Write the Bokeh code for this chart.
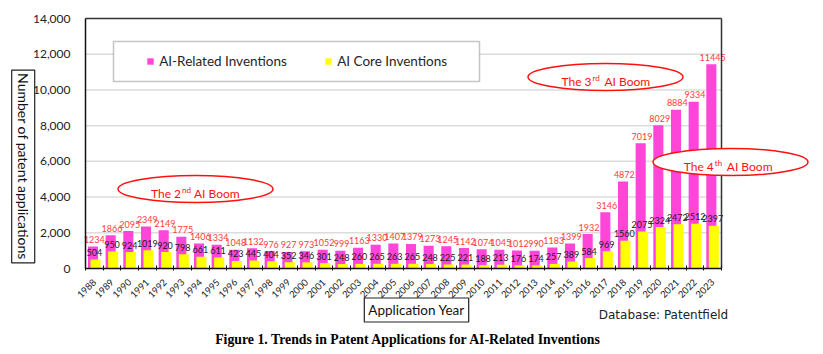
import math
from bokeh.plotting import figure
from bokeh.models import (Range1d, FixedTicker, NumeralTickFormatter, Label, Legend,
                          LegendItem, ColumnDataSource, BoxAnnotation)
from bokeh.transform import dodge
from bokeh.core.properties import value
from bokeh.embed import file_html
from bokeh.resources import INLINE

# ---------------- data ----------------
years = [str(y) for y in range(1988, 2024)]
ai_related = [1234, 1866, 2095, 2349, 2149, 1775, 1406, 1334, 1048, 1132, 976, 927,
              973, 1052, 999, 1163, 1330, 1407, 1379, 1273, 1245, 1142, 1074, 1045,
              1012, 990, 1183, 1399, 1932, 3146, 4872, 7019, 8029, 8884, 9334, 11445]
ai_core = [504, 950, 924, 1019, 920, 798, 661, 611, 423, 445, 404, 352,
           346, 301, 248, 260, 265, 263, 265, 248, 225, 221, 188, 213,
           176, 174, 257, 389, 584, 969, 1560, 2075, 2324, 2472, 2512, 2397]
y_ticks = [0, 2000, 4000, 6000, 8000, 10000, 12000, 14000]
grid_values = [2000, 4000, 6000, 8000, 10000, 12000]
series_names = ["AI-Related Inventions", "AI Core Inventions"]
booms = [("The 2", "nd"), ("The 3", "rd"), ("The 4", "th")]

# ---------------- layout constants ----------------
W, H = 823, 354
AX_LEFT, AX_RIGHT = 85, 721      # pixel span of the category axis
AX_BOTTOM, Y_TOP_PX = 268, 18    # pixel rows of 0 and 14,000
n = len(years)
ppx = (AX_RIGHT - AX_LEFT) / n
y_per_px = y_ticks[-1] / (AX_BOTTOM - Y_TOP_PX)


def dx(px):
    return (px - AX_LEFT) / ppx


def dy(py):
    return (AX_BOTTOM - py) * y_per_px


PINK = "#FF46D9"
YELLOW = "#FFFF00"
RED_TXT = "#FF3B3B"
RED = "#FF1010"
FONT = "Lato"

p = figure(width=W, height=H, title=None,
           x_range=Range1d(dx(0), dx(W)), y_range=Range1d(dy(H), dy(0)),
           output_backend="svg", toolbar_location=None,
           min_border_left=0, min_border_right=0, min_border_top=0, min_border_bottom=0)
p.outline_line_color = None
p.grid.visible = False
p.background_fill_color = "white"
p.border_fill_color = "white"

centers = [i + 0.5 for i in range(n)]
src = ColumnDataSource(dict(
    x=centers, year=years, related=ai_related, core=ai_core,
    related_txt=[str(v) for v in ai_related], core_txt=[str(v) for v in ai_core]))

# gridlines (only across the category span)
p.segment(x0=[0] * len(grid_values), x1=[n] * len(grid_values), y0=grid_values, y1=grid_values,
          line_color="#DCDCDC", line_width=1.5)

pink = p.vbar(x=dodge("x", -0.075, range=p.x_range), top="related", width=0.57, bottom=0,
              source=src, fill_color=PINK, line_color=None)
yellow = p.vbar(x=dodge("x", 0.065, range=p.x_range), top="core", width=0.57, bottom=0,
                source=src, fill_color=YELLOW, line_color=None)

p.text(x="x", y="related", text="related_txt", source=src, text_align="center",
       text_baseline="alphabetic", y_offset=-7, text_font=value(FONT),
       text_font_size="9px", text_color=RED_TXT)
p.text(x="x", y="core", text="core_txt", source=src, text_align="center",
       text_baseline="alphabetic", y_offset=-7, text_font=value(FONT),
       text_font_size="9px", text_color="#1a1a1a")

# frame top / right borders
p.segment(x0=[0, n], x1=[n, n], y0=[y_ticks[-1], 0], y1=[y_ticks[-1], y_ticks[-1]],
          line_color="#333333", line_width=1.5)

# axes (drawn at fixed data locations so that the whole canvas is the frame)
xa = p.xaxis[0]
xa.fixed_location = 0
xa.ticker = FixedTicker(ticks=centers, minor_ticks=list(range(n + 1)))
xa.major_label_overrides = {c: y for c, y in zip(centers, years)}
xa.major_label_orientation = math.pi / 4
xa.bounds = (0, n)
xa.axis_line_color = "#111111"
xa.axis_line_width = 1.5
xa.major_tick_line_color = None
xa.minor_tick_line_color = "#111111"
xa.minor_tick_in = 3
xa.minor_tick_out = 2
xa.major_label_text_font = FONT
xa.major_label_text_font_size = "9.5px"
xa.major_label_text_color = "#222222"
xa.major_label_standoff = 6

ya = p.yaxis[0]
ya.fixed_location = 0
ya.ticker = FixedTicker(ticks=y_ticks)
ya.formatter = NumeralTickFormatter(format="0,0")
ya.bounds = (0, y_ticks[-1])
ya.axis_line_color = "#111111"
ya.axis_line_width = 1.5
ya.major_tick_line_color = None
ya.minor_tick_line_color = None
ya.major_tick_out = 0
ya.major_tick_in = 0
ya.major_label_standoff = 15
ya.major_label_text_font = FONT
ya.major_label_text_font_size = "12px"
ya.major_label_text_color = "#222222"

# legend with framed box
box = BoxAnnotation(left=dx(113), right=dx(479), top=dy(41), bottom=dy(81),
                    fill_color="white", fill_alpha=1.0, line_color="#404040", line_width=1.5)
p.add_layout(box)
legend = Legend(items=[LegendItem(label=series_names[0], renderers=[pink]),
                       LegendItem(label=series_names[1], renderers=[yellow])],
                orientation="horizontal", location=(146.2, H - 69),
                margin=0, padding=0, spacing=0, border_line_color=None,
                background_fill_alpha=0, glyph_width=8, glyph_height=8,
                label_standoff=5, label_width=int(324.2 - 159), label_height=14,
                label_text_font=FONT, label_text_font_size="13.5px",
                label_text_color="#262626")
p.add_layout(legend)

# boom ellipses
ell_cx = [195, 605, 730]
ell_cy = [188.5, 76.5, 161.5]
p.ellipse(x=[dx(v) for v in ell_cx], y=[dy(v) for v in ell_cy], width=155, height=27,
          width_units="screen", height_units="screen", fill_color="white",
          line_color=RED, line_width=1.5)
anchor_px = [180.5, 591.0, 713.3]
for (main, sup), ax_px, cy in zip(booms, anchor_px, ell_cy):
    base = cy + 4.5
    p.add_layout(Label(x=dx(ax_px), y=dy(base), text=main, text_align="right",
                       text_baseline="alphabetic", text_font=FONT, text_font_size="12px",
                       text_color=RED))
    p.add_layout(Label(x=dx(ax_px + 1), y=dy(base - 4), text=sup, text_align="left",
                       text_baseline="alphabetic", text_font=FONT, text_font_size="8px",
                       text_color=RED))
    p.add_layout(Label(x=dx(ax_px + 13), y=dy(base), text="AI Boom", text_align="left",
                       text_baseline="alphabetic", text_font=FONT, text_font_size="12px",
                       text_color=RED))

# texts around the chart
p.add_layout(Label(x=dx(22.7), y=dy(166), text="Number of patent applications",
                   angle=-math.pi / 2, text_align="center", text_baseline="middle",
                   text_font=FONT, text_font_size="14px", text_color="#111111",
                   border_line_color="#222222", border_line_width=1.2,
                   background_fill_color="white", padding=3))
p.add_layout(Label(x=dx(416), y=dy(309.5), text="Application Year",
                   text_align="center", text_baseline="middle",
                   text_font=FONT, text_font_size="13.5px", text_color="#111111",
                   border_line_color="#222222", border_line_width=1.2,
                   background_fill_color="white", padding=4))
p.add_layout(Label(x=dx(663), y=dy(314.5), text="Database: Patentfield",
                   text_align="center", text_baseline="middle",
                   text_font="DejaVu Sans", text_font_size="12px", text_color="#222222"))
p.add_layout(Label(x=dx(408), y=dy(339), text="Figure 1. Trends in Patent Applications for AI-Related Inventions",
                   text_align="center", text_baseline="middle",
                   text_font="Liberation Serif", text_font_style="bold",
                   text_font_size="13.8px", text_color="#000000"))

open("out.html", "w").write(file_html(p, INLINE))
